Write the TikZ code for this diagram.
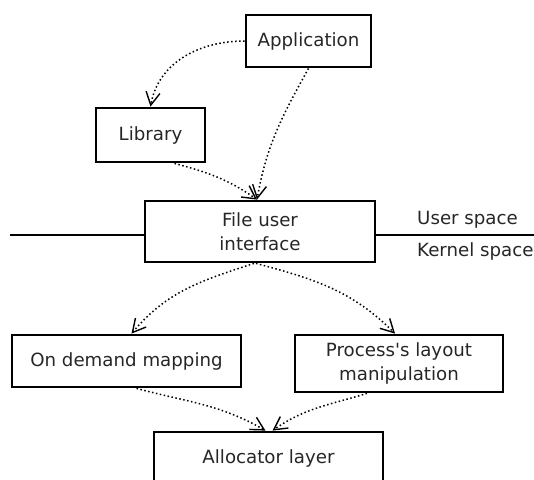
\documentclass[tikz,border=0pt]{standalone}
\usepackage{fontspec}
\setmainfont{DejaVu Sans}
\usetikzlibrary{arrows.meta}

\begin{document}
\begin{tikzpicture}[
    x=1pt, y=1pt,
    box/.style={draw, line width=2.8pt, align=center, inner sep=0pt, text=black!85, font=\fontsize{18.2}{23.5}\selectfont},
    lbl/.style={inner sep=0pt, anchor=west, text=black!85, font=\fontsize{18.2}{23.5}\selectfont},
    arr/.style={-{Straight Barb[length=13pt,width=14pt,line width=1.4pt]}, line width=1.5pt, dash pattern=on 1.5pt off 2.5pt},
    sep/.style={line width=2.2pt}
]
    \useasboundingbox (0,0) rectangle (534,-479);

    % User space
    \node[box, minimum width=125pt, minimum height=52pt] (app) at (308.5,-41) {Application};
    \node[box, minimum width=109pt, minimum height=54pt] (lib) at (150.5,-135) {Library};
    \node[box, minimum width=230pt, minimum height=61pt] (fui) at (260,-231.5) {File user\\interface};

    % Space boundary
    \coordinate (lend) at (10,-235);
    \coordinate (rend) at (534,-235);
    \draw[sep] (lend) -- (lend -| fui.west);
    \draw[sep] (fui.east |- rend) -- (rend);
    \node[lbl] (uspace) at (417,-220) {User space};
    \node[lbl] (kspace) at (417,-251) {Kernel space};

    % Kernel space
    \node[box, minimum width=229pt, minimum height=52pt] (odm) at (126.5,-361) {On demand mapping};
    \node[box, minimum width=208pt, minimum height=57pt] (plm) at (399,-363.5) {Process\textquotesingle s layout\\manipulation};
    \node[box, minimum width=229pt, minimum height=52pt] (alloc) at (268.5,-458) {Allocator layer};

    % Connections
    \draw[arr] (app.west) to[out=180, in=80] (lib.north);
    \draw[arr] (app.south) to[out=241, in=80] ([xshift=-3pt]fui.north);
    \draw[arr] ([xshift=24pt]lib.south) to[out=-15, in=145] ([xshift=-3pt]fui.north);
    \draw[arr] ([xshift=-6pt]fui.south) to[out=198, in=50] ([xshift=5pt]odm.north);
    \draw[arr] ([xshift=-4pt]fui.south) to[out=-15, in=135] ([xshift=-4pt]plm.north);
    \draw[arr] ([xshift=10pt]odm.south) to[out=-15, in=150] ([xshift=-3pt]alloc.north);
    \draw[arr] ([xshift=-32pt]plm.south) to[out=197, in=35] ([xshift=4pt]alloc.north);
\end{tikzpicture}
\end{document}
